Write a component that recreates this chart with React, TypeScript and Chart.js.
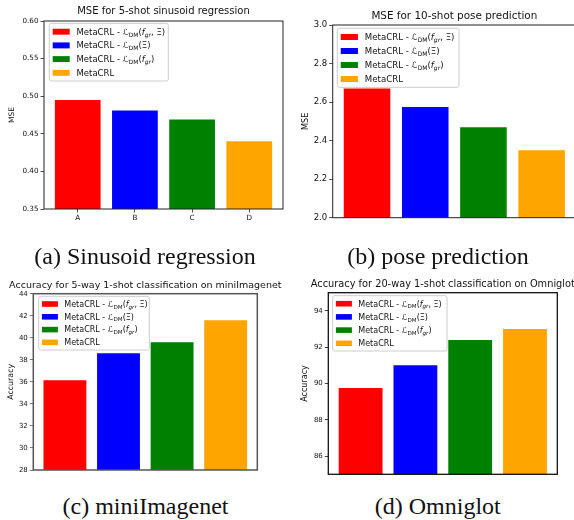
import React, { useEffect, useRef } from "react";
import { Chart, registerables } from "chart.js";

Chart.register(...registerables);

// ---------------- data ----------------
const categories = ["A", "B", "C", "D"];
const barColors = ["#ff0000", "#0000ff", "#008000", "#ffa500"];

const sinusoidMSE = [0.495, 0.481, 0.469, 0.44];
const poseMSE = [2.67, 2.575, 2.47, 2.35];
const miniImagenetAcc = [36.15, 38.6, 39.6, 41.6];
const omniglotAcc = [89.75, 91.0, 92.4, 93.0];

const sinusoidTicks = [0.35, 0.4, 0.45, 0.5, 0.55, 0.6];
const poseTicks = [2.0, 2.2, 2.4, 2.6, 2.8, 3.0];
const miniTicks = [28, 30, 32, 34, 36, 38, 40, 42, 44];
const omniTicks = [86, 88, 90, 92, 94];

type Run = { t: string; sub?: boolean; it?: boolean };
const legendLabels: Run[][] = [
  [{ t: "MetaCRL - " }, { t: "ℒ" }, { t: "DM", sub: true }, { t: "(" }, { t: "f", it: true }, { t: "gr", sub: true, it: true }, { t: ", Ξ)" }],
  [{ t: "MetaCRL - " }, { t: "ℒ" }, { t: "DM", sub: true }, { t: "(Ξ)" }],
  [{ t: "MetaCRL - " }, { t: "ℒ" }, { t: "DM", sub: true }, { t: "(" }, { t: "f", it: true }, { t: "gr", sub: true, it: true }, { t: ")" }],
  [{ t: "MetaCRL" }],
];

const titles = [
  "MSE for 5-shot sinusoid regression",
  "MSE for 10-shot pose prediction",
  "Accuracy for 5-way 1-shot classification on miniImagenet",
  "Accuracy for 20-way 1-shot classification on Omniglot",
];
const yTitles = ["MSE", "MSE", "Accuracy", "Accuracy"];
const captions = ["(a) Sinusoid regression", "(b) pose prediction", "(c) miniImagenet", "(d) Omniglot"];

const FONT = "'DejaVu Sans', sans-serif";

type Spec = {
  values: number[];
  ticks: number[];
  decimals: number;
  yMin: number;
  yMax: number;
  title: string;
  yTitle: string;
  showX: boolean;
  cw: number;
  ch: number;
  area: { l: number; t: number; r: number; b: number };
  titleSize: number;
  titleBase: number;
  tickSize: number;
  tickLen: number;
  yTitleSize: number;
  yTitleX: number;
  boxColor: string;
  boxWidth: number;
  legend: { dx: number; dy: number; w: number; h: number; row0: number; gap: number; F: number };
};

function drawRich(ctx: CanvasRenderingContext2D, runs: Run[], x: number, y: number, F: number) {
  let cx = x;
  for (const r of runs) {
    const size = r.sub ? F * 0.7 : F;
    ctx.font = `${r.it ? "italic " : ""}${size}px ${FONT}`;
    const dy = r.sub ? F * 0.22 : 0;
    ctx.fillText(r.t, cx, y + dy);
    cx += ctx.measureText(r.t).width;
  }
}

function makeChart(canvas: HTMLCanvasElement, s: Spec) {
  const decor = {
    id: "decor",
    afterDraw(chart: any) {
      const ctx: CanvasRenderingContext2D = chart.ctx;
      const a = chart.chartArea;
      ctx.save();
      // frame
      ctx.strokeStyle = s.boxColor;
      ctx.lineWidth = s.boxWidth;
      ctx.strokeRect(a.left, a.top, a.right - a.left, a.bottom - a.top);
      // title
      ctx.fillStyle = "#111";
      ctx.font = `${s.titleSize}px ${FONT}`;
      ctx.textAlign = "center";
      ctx.textBaseline = "alphabetic";
      ctx.fillText(s.title, (a.left + a.right) / 2, s.titleBase);
      // legend
      const L = s.legend;
      const bx = a.left + L.dx;
      const by = a.top + L.dy;
      ctx.beginPath();
      const rr = 2;
      ctx.moveTo(bx + rr, by);
      ctx.arcTo(bx + L.w, by, bx + L.w, by + L.h, rr);
      ctx.arcTo(bx + L.w, by + L.h, bx, by + L.h, rr);
      ctx.arcTo(bx, by + L.h, bx, by, rr);
      ctx.arcTo(bx, by, bx + L.w, by, rr);
      ctx.closePath();
      ctx.fillStyle = "rgba(255,255,255,0.8)";
      ctx.fill();
      ctx.strokeStyle = "#cccccc";
      ctx.lineWidth = 1;
      ctx.stroke();
      ctx.textAlign = "left";
      legendLabels.forEach((runs, i) => {
        const cy = by + L.row0 + i * L.gap;
        ctx.fillStyle = barColors[i];
        ctx.fillRect(bx + 0.4 * L.F, cy - 0.35 * L.F, 2 * L.F, 0.7 * L.F);
        ctx.fillStyle = "#111";
        drawRich(ctx, runs, bx + 3.2 * L.F, cy + 0.36 * L.F, L.F);
      });
      ctx.restore();
    },
  };

  return new Chart(canvas, {
    type: "bar",
    data: {
      datasets: [
        {
          data: s.values.map((v, i) => ({ x: i, y: v })),
          backgroundColor: barColors,
          borderWidth: 0,
          categoryPercentage: 1,
          barPercentage: 0.8,
        } as any,
      ],
    },
    options: {
      responsive: false,
      animation: false,
      events: [],
      layout: { padding: { left: 0, top: s.area.t, right: s.cw - s.area.r, bottom: 0 } },
      plugins: { legend: { display: false }, title: { display: false }, tooltip: { enabled: false } },
      scales: {
        x: {
          type: "linear",
          min: -0.59,
          max: 3.59,
          offset: false,
          afterFit: (sc: any) => {
            sc.height = s.ch - s.area.b;
          },
          afterBuildTicks: (sc: any) => {
            sc.ticks = s.showX ? categories.map((_, i) => ({ value: i })) : [];
          },
          ticks: {
            display: s.showX,
            autoSkip: false,
            maxRotation: 0,
            padding: 1,
            color: "#111",
            font: { family: FONT, size: s.tickSize },
            callback: (v: any) => categories[Math.round(Number(v))] ?? "",
          },
          grid: {
            display: s.showX,
            offset: false,
            drawOnChartArea: false,
            drawTicks: true,
            tickLength: s.tickLen,
            color: s.boxColor,
            lineWidth: 0.8,
          },
          border: { display: false },
        } as any,
        y: {
          type: "linear",
          min: s.yMin,
          max: s.yMax,
          afterFit: (sc: any) => {
            sc.width = s.area.l;
          },
          afterBuildTicks: (sc: any) => {
            sc.ticks = s.ticks.map((v) => ({ value: v }));
          },
          ticks: {
            padding: 2,
            color: "#111",
            font: { family: FONT, size: s.tickSize },
            callback: (v: any) => Number(v).toFixed(s.decimals),
          },
          grid: {
            display: true,
            drawOnChartArea: false,
            drawTicks: true,
            tickLength: s.tickLen,
            color: s.boxColor,
            lineWidth: 0.8,
          },
          border: { display: false },
          title: {
            display: true,
            text: s.yTitle,
            color: "#111",
            font: { family: FONT, size: s.yTitleSize, lineHeight: 1.2 },
            padding: { top: s.yTitleX - (s.yTitleSize * 1.2) / 2, bottom: 0 },
          },
        } as any,
      },
    },
    plugins: [decor],
  } as any);
}

function Panel({ spec, left, top }: { spec: Spec; left: number; top: number }) {
  const ref = useRef<HTMLCanvasElement | null>(null);
  useEffect(() => {
    if (!ref.current) return;
    const c = makeChart(ref.current, spec);
    return () => c.destroy();
  }, [spec]);
  return (
    <canvas
      ref={ref}
      width={spec.cw}
      height={spec.ch}
      style={{ position: "absolute", left, top, width: spec.cw, height: spec.ch }}
    />
  );
}

const specs: Spec[] = [
  {
    values: sinusoidMSE, ticks: sinusoidTicks, decimals: 2, yMin: 0.35, yMax: 0.6,
    title: titles[0], yTitle: yTitles[0], showX: true, cw: 287, ch: 235,
    area: { l: 44, t: 21, r: 283, b: 209 }, titleSize: 10, titleBase: 14.3,
    tickSize: 7.2, tickLen: 3.5, yTitleSize: 7.5, yTitleX: 12.5, boxColor: "#222", boxWidth: 1,
    legend: { dx: 5.3, dy: 2.3, w: 119, h: 57.7, row0: 8.4, gap: 13.7, F: 8.5 },
  },
  {
    values: poseMSE, ticks: poseTicks, decimals: 1, yMin: 2.0, yMax: 3.0,
    title: titles[1], yTitle: yTitles[1], showX: false, cw: 300, ch: 235,
    area: { l: 45.7, t: 25, r: 289, b: 217.7 }, titleSize: 10.4, titleBase: 18.8,
    tickSize: 8.5, tickLen: 3.5, yTitleSize: 8.2, yTitleX: 18.5, boxColor: "#222", boxWidth: 1,
    legend: { dx: 4.6, dy: 3.3, w: 121.7, h: 59, row0: 8.7, gap: 14, F: 8.6 },
  },
  {
    values: miniImagenetAcc, ticks: miniTicks, decimals: 0, yMin: 28, yMax: 44,
    title: titles[2], yTitle: yTitles[2], showX: false, cw: 287, ch: 230,
    area: { l: 33.3, t: 35.7, r: 257.3, b: 212 }, titleSize: 9.5, titleBase: 30.3,
    tickSize: 7, tickLen: 3.5, yTitleSize: 7.9, yTitleX: 11, boxColor: "#555", boxWidth: 1.5,
    legend: { dx: 5.4, dy: 2.6, w: 110.6, h: 53.7, row0: 7.7, gap: 12.8, F: 8.0 },
  },
  {
    values: omniglotAcc, ticks: omniTicks, decimals: 0, yMin: 85, yMax: 95,
    title: titles[3], yTitle: yTitles[3], showX: false, cw: 300, ch: 230,
    area: { l: 41.3, t: 34.7, r: 270.3, b: 216.3 }, titleSize: 9.8, titleBase: 29.3,
    tickSize: 7, tickLen: 3.5, yTitleSize: 8, yTitleX: 17.5, boxColor: "#111", boxWidth: 1.3,
    legend: { dx: 4.4, dy: 3.0, w: 114.3, h: 55.3, row0: 8, gap: 13.2, F: 8.0 },
  },
];

const panelPos = [
  { left: 0, top: 0 },
  { left: 287, top: 0 },
  { left: 0, top: 258 },
  { left: 287, top: 258 },
];

const captionPos = [
  { cx: 145, base: 264.5 },
  { cx: 438, base: 264.5 },
  { cx: 145.5, base: 514.5 },
  { cx: 437.8, base: 514.5 },
];

export default function App() {
  return (
    <div
      style={{
        position: "absolute",
        left: 0,
        top: 0,
        width: 574,
        height: 520,
        overflow: "hidden",
        background: "#ffffff",
      }}
    >
      {specs.map((s, i) => (
        <Panel key={i} spec={s} left={panelPos[i].left} top={panelPos[i].top} />
      ))}
      {captions.map((c, i) => (
        <div
          key={"c" + i}
          style={{
            position: "absolute",
            left: captionPos[i].cx - 150,
            top: captionPos[i].base - 20.1,
            width: 300,
            textAlign: "center",
            fontFamily: "'Liberation Serif', 'Times New Roman', serif",
            fontSize: 24,
            lineHeight: "24px",
            color: "#111",
            whiteSpace: "nowrap",
          }}
        >
          {c}
        </div>
      ))}
    </div>
  );
}
